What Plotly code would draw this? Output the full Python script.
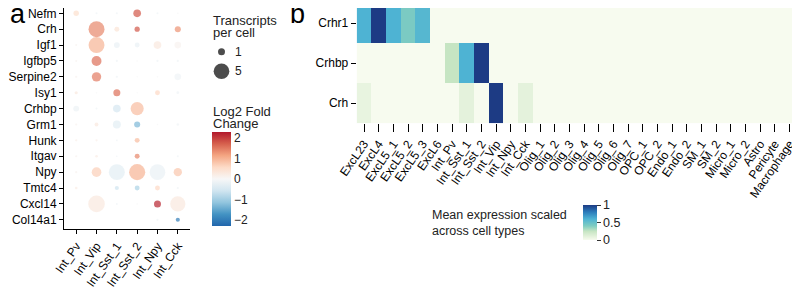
import plotly.graph_objects as go

# ---------------- data ----------------
genes = ["Nefm", "Crh", "Igf1", "Igfbp5", "Serpine2", "Isy1", "Crhbp", "Grm1",
         "Hunk", "Itgav", "Npy", "Tmtc4", "Cxcl14", "Col14a1"]
dot_types = ["Int_Pv", "Int_Vip", "Int_Sst_1", "Int_Sst_2", "Int_Npy", "Int_Cck"]

# transcripts per cell (rows = genes, cols = dot_types)
transcripts = [
    [0.6, 0.08, 0.08, 1.2, 0.08, 0.05],
    [0.0, 5.2, 0.5, 0.55, 0.0, 0.75],
    [0.08, 5.2, 0.7, 0.5, 1.2, 0.9],
    [0.08, 2.0, 0.1, 0.05, 0.1, 0.1],
    [0.1, 1.8, 0.1, 0.05, 0.05, 0.9],
    [0.2, 0.05, 1.0, 0.05, 0.5, 0.15],
    [0.7, 0.08, 1.2, 3.5, 0.0, 0.0],
    [0.1, 0.3, 1.3, 0.75, 0.05, 0.12],
    [0.1, 0.1, 0.08, 0.5, 0.0, 0.0],
    [0.1, 0.15, 0.05, 0.5, 0.0, 0.08],
    [0.1, 1.9, 5.2, 5.3, 5.0, 1.4],
    [0.15, 0.0, 0.35, 0.5, 0.5, 0.1],
    [0.0, 5.6, 0.08, 0.05, 1.0, 4.7],
    [0.0, 0.0, 0.0, 0.0, 0.1, 0.35],
]
# log2 fold change
log2fc = [
    [0.5, -0.1, -0.1, 1.8, -0.1, 0.0],
    [0.0, 1.4, 0.4, 1.8, 0.0, 1.3],
    [0.1, 1.0, -0.2, -0.2, 0.3, 0.1],
    [0.1, 1.6, -0.1, 0.0, -0.1, -0.1],
    [0.1, 1.5, -0.1, 0.0, 0.0, -0.1],
    [0.3, 0.0, 1.6, 0.0, 0.6, -0.1],
    [-0.15, -0.1, -0.5, 0.9, 0.0, 0.0],
    [0.1, 0.3, -0.3, -1.3, 0.0, -0.1],
    [0.15, 0.15, -0.1, 0.9, 0.0, 0.0],
    [0.1, 0.2, -0.1, 1.4, 0.0, -0.1],
    [0.1, 0.7, -0.3, 1.0, -0.2, 0.8],
    [0.2, 0.0, -0.6, -0.9, 0.6, -0.1],
    [0.0, 0.3, -0.1, 0.0, 2.2, 0.3],
    [0.0, 0.0, 0.0, 0.0, -0.1, -2.0],
]
size_legend_vals = [1, 5]
size_legend_labels = ["1", "5"]
fc_ticks = [2, 1, 0, -1, -2]

heat_genes = ["Crhr1", "Crhbp", "Crh"]
heat_types = ["ExcL23", "ExcL4", "ExcL5_1", "ExcL5_2", "ExcL5_3", "ExcL6",
              "Int_Pv", "Int_Sst_1", "Int_Sst_2", "Int_Vip", "Int_Npy", "Int_Cck",
              "Olig_1", "Olig_2", "Olig_3", "Olig_4", "Olig_5", "Olig_6", "Olig_7",
              "OPC_1", "OPC_2", "Endo_1", "Endo_2", "SM_1", "SM_2",
              "Micro_1", "Micro_2", "Astro", "Pericyte", "Macrophage"]
crhr1_vals = [0.6, 1.0, 0.6, 0.42, 0.57] + [0.0] * 25
crhbp_vals = [0.0] * 6 + [0.25, 0.6, 1.0] + [0.0] * 21
crh_vals = [0.08] + [0.0] * 6 + [0.1, 0.0, 1.0, 0.0, 0.1] + [0.0] * 18
heat_ticks = [0, 0.5, 1]

# ---------------- helpers ----------------
OFF = 8                     # page body margin
W, H = 800 - OFF, 287 - OFF
def fx(p):
    return min(1.0, max(0.0, (p - OFF) / W))
def fy(p):
    return min(1.0, max(0.0, 1 - (p - OFF) / H))

FONT = "Liberation Sans, Arial, sans-serif"
SIZEREF = 1 / 24.5

rdbu = [[0.0, "#2166ac"], [0.125, "#4393c3"], [0.25, "#92c5de"], [0.375, "#d1e5f0"],
        [0.5, "#f7f7f7"], [0.625, "#fddbc7"], [0.75, "#f4a582"], [0.875, "#d6604d"],
        [1.0, "#b2182b"]]
gnbu = [[0.0, "#f7fbef"], [0.1, "#e4f2dc"], [0.25, "#c6e5c3"], [0.4, "#80cdc1"],
        [0.6, "#4eb3d3"], [0.8, "#2b7bba"], [1.0, "#1d3b84"]]

# long format for dots
xs, ys, ss, cs = [], [], [], []
for gi, g in enumerate(genes):
    for ci, c in enumerate(dot_types):
        v = transcripts[gi][ci]
        if v > 0:
            xs.append(c)
            ys.append(g)
            ss.append(v)
            cs.append(log2fc[gi][ci])

fig = go.Figure()

fig.add_trace(go.Scatter(
    x=xs, y=ys, mode="markers", xaxis="x", yaxis="y", showlegend=False,
    marker=dict(size=ss, sizemode="area", sizeref=SIZEREF, color=cs,
                colorscale=rdbu, cmin=-2.3, cmax=2.3, line=dict(width=0),
                colorbar=dict(
                    x=fx(212), xanchor="left", xref="paper", xpad=0,
                    y=fy(179), yanchor="middle", yref="paper",
                    len=114, lenmode="pixels", ypad=10,
                    thickness=19, thicknessmode="pixels",
                    outlinewidth=0, tickvals=fc_ticks, ticks="",
                    tickfont=dict(family=FONT, size=12, color="#222"),
                )),
))

# size legend
fig.add_trace(go.Scatter(
    x=[0, 0], y=[0, 1], mode="markers", xaxis="x3", yaxis="y3", showlegend=False,
    marker=dict(size=size_legend_vals, sizemode="area", sizeref=SIZEREF, color="black",
                line=dict(width=0)),
))

fig.add_trace(go.Heatmap(
    z=[crhr1_vals, crhbp_vals, crh_vals], x=heat_types, y=heat_genes,
    xaxis="x2", yaxis="y2", colorscale=gnbu, zmin=0, zmax=1,
    colorbar=dict(
        x=fx(583), xanchor="left", xpad=0, y=fy(222.5), yanchor="middle",
        len=55, lenmode="pixels", ypad=10, thickness=14, thicknessmode="pixels",
        outlinewidth=0, tickvals=heat_ticks, ticks="outside", ticklen=4,
        tickcolor="#333", tickfont=dict(family=FONT, size=12.5, color="#222"),
    ),
))

tickfont = dict(family=FONT, size=12, color="black")
common = dict(automargin=False, showgrid=False, zeroline=False)
fig.update_layout(
    width=W, height=H, margin=dict(l=0, r=0, t=0, b=0, autoexpand=False),
    paper_bgcolor="white", plot_bgcolor="white",
    font=dict(family=FONT, color="black"),
    xaxis=dict(domain=[fx(64), fx(190)], anchor="y", type="category",
               categoryorder="array", categoryarray=dot_types, range=[-0.6, 5.6],
               tickmode="array", tickvals=dot_types,
               showline=True, linecolor="black", linewidth=1, ticks="outside",
               ticklen=4, tickcolor="black", tickangle=-55, tickfont=tickfont, **common),
    yaxis=dict(domain=[fy(229.3), 1.0], anchor="x", type="category",
               categoryorder="array", categoryarray=genes, range=[13.6, -0.335],
               tickmode="array", tickvals=genes,
               showline=True, linecolor="black", linewidth=1, ticks="outside",
               ticklen=4, tickcolor="black",
               tickfont=dict(family=FONT, size=12, color="black"), **common),
    xaxis2=dict(domain=[fx(356.7), fx(796.8)], anchor="y2", type="category",
                categoryorder="array", categoryarray=heat_types, range=[-0.5, 29.5],
                tickmode="array", tickvals=heat_types,
                showline=False, ticks="outside", ticklen=8, tickcolor="black",
                tickangle=-55, tickfont=tickfont, **common),
    yaxis2=dict(domain=[fy(123.3), 1.0], anchor="x2", type="category",
                categoryorder="array", categoryarray=heat_genes, range=[2.5, -0.38],
                tickmode="array", tickvals=heat_genes,
                showline=False, ticks="outside", ticklen=5, tickcolor="black",
                tickfont=tickfont, **common),
    xaxis3=dict(domain=[fx(206), fx(237)], anchor="y3", range=[-1, 1], visible=False,
                automargin=False),
    yaxis3=dict(domain=[fy(81), fy(42)], anchor="x3", range=[1.5, -0.5], visible=False,
                automargin=False),
)

lbl = dict(family=FONT, size=13, color="#222")
ann = [
    dict(text="a", x=0, y=fy(14), xanchor="left", yanchor="middle",
         font=dict(family=FONT, size=27, color="black")),
    dict(text="b", x=fx(288), y=fy(14), xanchor="left", yanchor="middle",
         font=dict(family=FONT, size=27, color="black")),
    dict(text="Transcripts", x=fx(211), y=fy(20.5), xanchor="left", yanchor="middle", font=lbl),
    dict(text="per cell", x=fx(211), y=fy(32.5), xanchor="left", yanchor="middle", font=lbl),
    dict(text="Log2 Fold", x=fx(211), y=fy(111), xanchor="left", yanchor="middle", font=lbl),
    dict(text="Change", x=fx(211), y=fy(124), xanchor="left", yanchor="middle", font=lbl),
    dict(text="Mean expression scaled", x=fx(430), y=fy(215), xanchor="left",
         yanchor="middle", font=dict(family=FONT, size=12.5, color="#222")),
    dict(text="across cell types", x=fx(430), y=fy(231), xanchor="left",
         yanchor="middle", font=dict(family=FONT, size=12.5, color="#222")),
]
for lab, py in zip(size_legend_labels, [52, 71.5]):
    ann.append(dict(text=lab, x=fx(233), y=fy(py), xanchor="left", yanchor="middle",
                    font=dict(family=FONT, size=12, color="#222")))
for a in ann:
    a.update(xref="paper", yref="paper", showarrow=False)
fig.update_layout(annotations=ann)

fig.write_html("out.html")
